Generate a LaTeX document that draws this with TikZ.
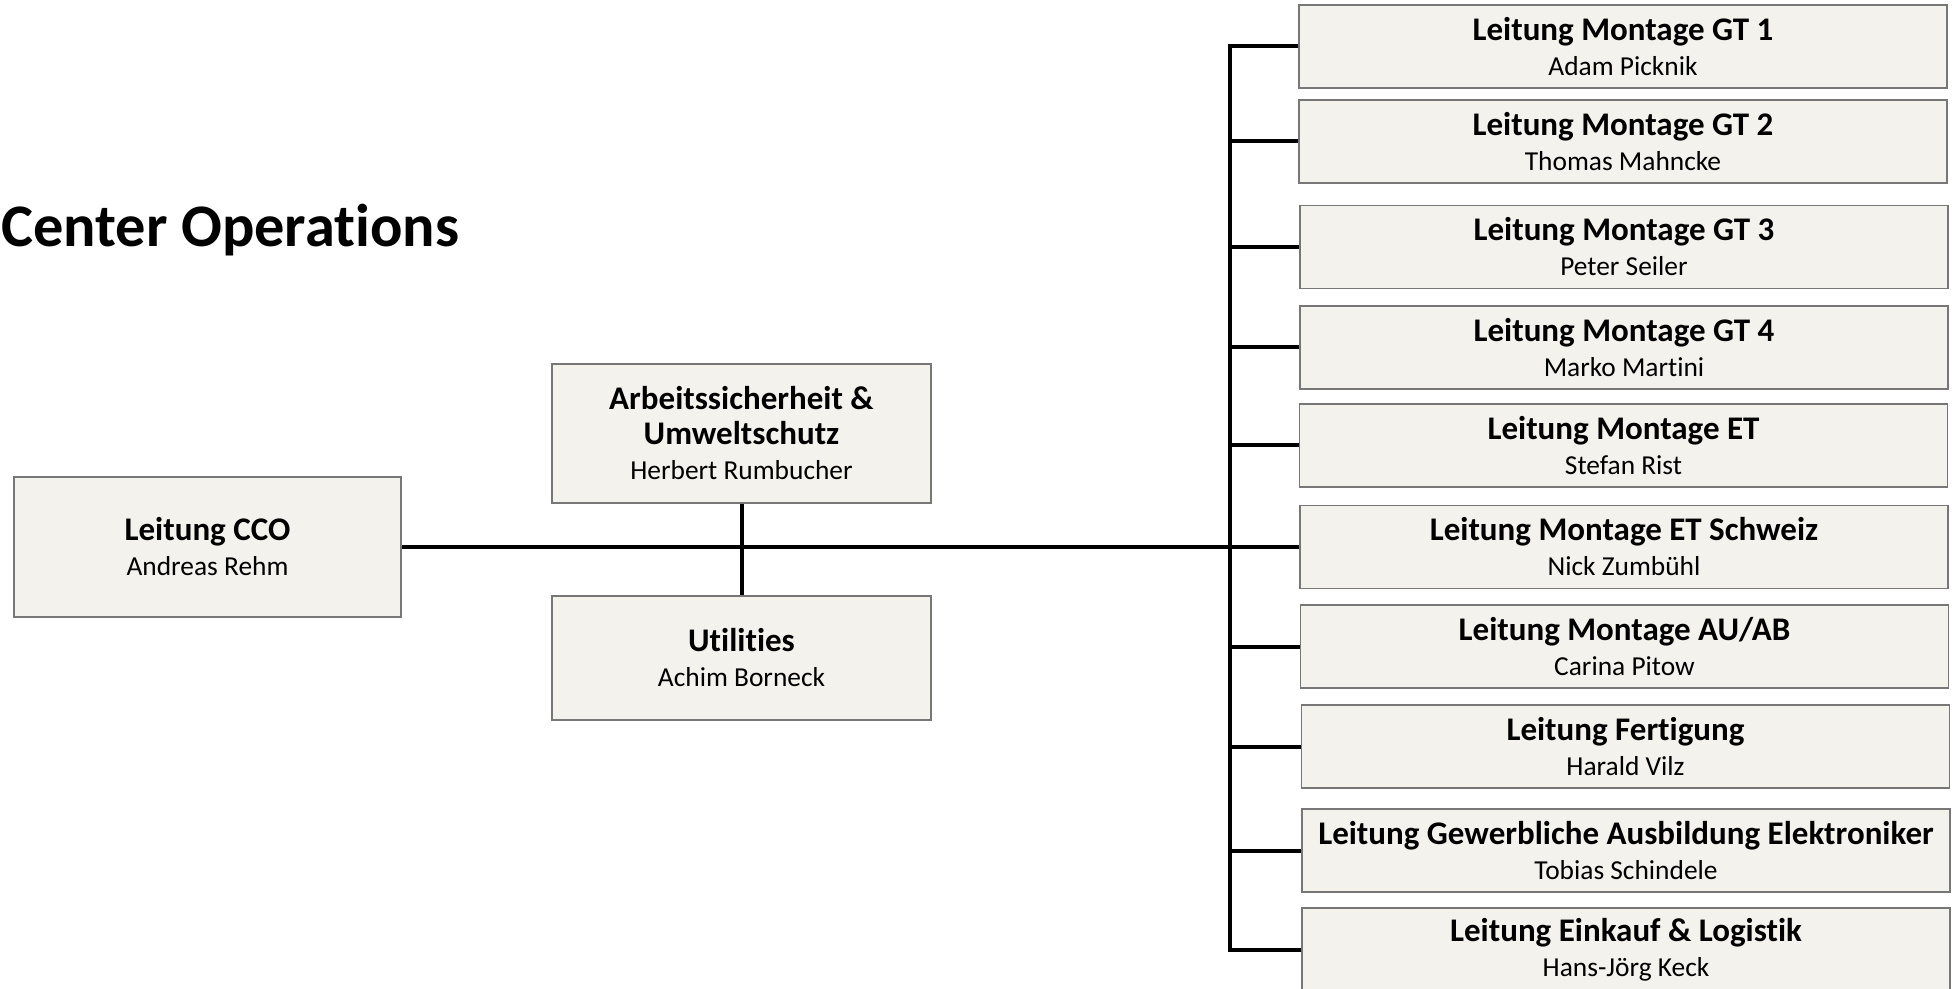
\documentclass[tikz,border=0pt]{standalone}
\usepackage{fontspec}
\setmainfont{Carlito}[Ligatures=NoCommon]
\definecolor{boxfill}{HTML}{F3F2EC}
\definecolor{boxline}{HTML}{777777}
\newcommand\nm[1]{{\fontsize{13.7}{17.5}\selectfont #1}}
\begin{document}
\begin{tikzpicture}[x=0.5pt,y=-0.5pt,
  orgbox/.style={draw=boxline, line width=0.75pt, fill=boxfill, rectangle, inner sep=0pt,
    align=center, font=\fontsize{16.5}{17.5}\selectfont},
  rbox/.style={orgbox, minimum width=324pt, minimum height=41.5pt},
  conn/.style={line width=2pt, black, line join=miter}]
\useasboundingbox (0,0) rectangle (1954,989);
\node[anchor=base west, inner sep=0pt, font=\bfseries\fontsize{30.2}{34}\selectfont] (title) at (1,247) {Center Operations};

\node[orgbox, minimum width=193.5pt, minimum height=70pt] (cco) at (207.5,547) {\textbf{Leitung CCO}\\\nm{Andreas Rehm}};
\node[orgbox, minimum width=189.5pt, minimum height=69.5pt] (asu) at (741.5,433.5) {\textbf{Arbeitssicherheit \&}\\\textbf{Umweltschutz}\\\nm{Herbert Rumbucher}};
\node[orgbox, minimum width=189.5pt, minimum height=62pt] (util) at (741.5,658) {\textbf{Utilities}\\\nm{Achim Borneck}};

\node[rbox] (r1) at (1623,46.5) {\textbf{Leitung Montage GT 1}\\\nm{Adam Picknik}};
\node[rbox] (r2) at (1623,141.5) {\textbf{Leitung Montage GT 2}\\\nm{Thomas Mahncke}};
\node[rbox] (r3) at (1624,247) {\textbf{Leitung Montage GT 3}\\\nm{Peter Seiler}};
\node[rbox] (r4) at (1624,347.5) {\textbf{Leitung Montage GT 4}\\\nm{Marko Martini}};
\node[rbox] (r5) at (1623.5,445.5) {\textbf{Leitung Montage ET}\\\nm{Stefan Rist}};
\node[rbox] (r6) at (1624,547) {\textbf{Leitung Montage ET Schweiz}\\\nm{Nick Zumbühl}};
\node[rbox] (r7) at (1624.5,646.5) {\textbf{Leitung Montage AU/AB}\\\nm{Carina Pitow}};
\node[rbox] (r8) at (1625.5,746.5) {\textbf{Leitung Fertigung}\\\nm{Harald Vilz}};
\node[rbox] (r9) at (1626,850.5) {\textbf{Leitung Gewerbliche Ausbildung Elektroniker}\\\nm{Tobias Schindele}};
\node[rbox] (r10) at (1626,949.5) {\textbf{Leitung Einkauf \& Logistik}\\\nm{Hans-Jörg Keck}};

\coordinate (bustop) at (1230,46.5);
\coordinate (busbot) at (1230,949.5);

\draw[conn] (cco.east) -- (r6.west);
\draw[conn] (asu.south) -- (util.north);
\draw[conn] (r1.west) -- (bustop) -- (busbot) -- (r10.west);
\foreach \n in {r2,r3,r4,r5,r7,r8,r9}{
  \draw[conn] (bustop |- \n.west) -- (\n.west);
}
\end{tikzpicture}
\end{document}
